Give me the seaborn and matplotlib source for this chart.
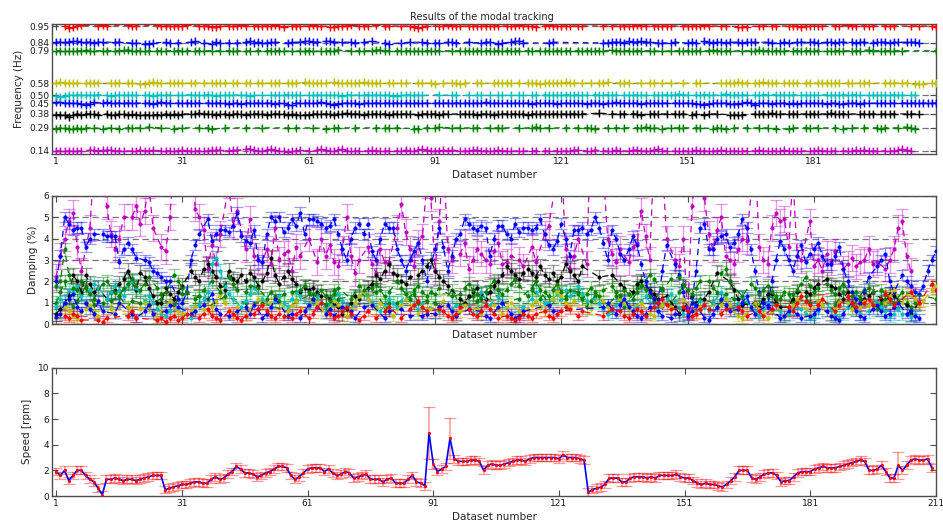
import numpy as np
import pandas as pd
import matplotlib
matplotlib.use("Agg")
import matplotlib.pyplot as plt
import seaborn as sns

na = float("nan")
datasets = list(range(1, 211))

# ---------------- frequency of each tracked mode (Hz), NaN = not identified ----------------
freq_095 = [
    na,na,.95,.94,.945,.95,.955,na,na,na,.95,.955,.95,na,na,na,na,.955,.95,.95,na,na,na,na,.955,.95,.95,.95,.95,.95,
    .95,.955,na,na,.95,.95,.95,.945,.945,.95,na,.95,.95,.95,.955,.95,na,.95,.95,.95,.95,.95,.955,.95,.945,na,.95,.95,.95,na,
    .95,.955,.95,.95,na,.945,.945,.95,.95,.95,.955,na,.95,.95,.95,na,.955,na,.95,.95,na,na,.95,na,.95,.945,.94,.945,.95,na,
    na,.95,.95,.955,.95,.95,.95,na,.95,.95,.95,.95,.95,.95,.95,.95,na,.95,.95,.95,.955,.95,.95,.95,.945,na,.95,.955,.95,.95,
    .95,.95,.95,na,.95,.95,na,na,na,na,.95,na,.95,na,.95,.95,.95,.95,.955,.95,.95,na,.95,.95,.95,.95,.95,na,na,.95,
    .95,.95,.95,.95,.955,.95,na,na,.95,.95,na,na,.945,.945,.945,na,na,.95,.95,na,.95,.95,na,na,.95,.95,.95,.945,.95,.95,
    na,.95,.95,na,na,.95,.95,na,.955,.95,.95,na,.95,.95,.95,na,na,.95,.95,.95,na,na,na,.95,na,.95,na,na,.95,.945]
freq_084 = [
    .845,.845,.845,.845,.85,.85,.845,.845,.845,.84,.845,.845,na,na,.845,.845,na,na,.84,.84,na,.835,.835,.84,na,na,.845,.84,na,.84,
    na,na,.845,.85,na,.84,na,.835,.845,.84,na,.84,na,.84,na,.845,.85,.84,.845,.84,.84,.845,.845,na,na,.84,.845,na,.845,.85,
    .85,.845,.845,na,.85,.85,.845,na,.845,na,.845,.84,na,.845,na,.85,na,na,.84,.835,na,na,.84,na,.845,na,na,.845,.84,na,
    .84,.84,na,.845,.845,.84,na,na,.845,na,na,.84,.845,.845,na,.835,.84,na,.845,.85,.85,.84,na,na,na,na,na,.84,.845,na,
    na,na,na,na,na,na,na,na,na,na,.84,.84,.845,.845,.845,.84,.85,.845,.845,.85,.845,.845,na,.84,.84,na,.84,.845,na,na,
    .84,.845,.84,na,.85,.845,.84,.845,.845,.84,.845,na,.845,.84,.845,.845,.845,na,na,.845,.84,na,.84,.845,.84,na,.845,.845,na,.845,
    .845,.84,na,.845,.845,.84,.845,.845,na,.845,.84,.845,.845,na,.84,.845,.845,.845,.84,.845,.845,na,.845,.845,.845,.84,na,na,na,na]
freq_079 = [
    .79,.79,.785,.785,.785,.79,.79,.795,.79,.79,na,.79,.79,na,.79,.79,.795,.795,.79,.79,.79,.785,.79,na,.79,.79,.79,na,.79,.79,
    .79,.79,na,.79,.79,.79,na,.79,na,.79,na,.79,.79,.79,na,.785,.79,na,.79,na,.79,.79,.79,.79,.79,na,.785,na,.79,.79,
    .79,.79,na,.785,.79,.79,.79,.795,na,na,.79,na,.79,.79,na,.79,.795,.795,.79,.79,na,.79,.79,.79,.79,.79,.785,.79,.79,.79,
    .79,.79,na,na,.79,na,.79,.79,.79,.785,.79,.79,.79,.79,.79,.79,.785,.79,.79,.79,.79,na,.79,.79,na,.79,.79,.79,.79,.79,
    .79,.79,.79,na,.79,.79,.79,.79,.79,.79,.79,na,.795,.79,.79,.79,.79,.79,.79,.79,na,.79,.79,na,.785,na,.79,na,.79,.79,
    .79,.79,.79,.79,na,.79,.795,.79,.79,.79,.79,na,na,.79,na,.79,.79,.795,.79,.79,.79,.79,.79,.79,na,.79,.79,.79,.79,.79,
    .79,.79,na,.785,.79,.79,.79,.79,na,.79,.79,.79,na,.795,.79,na,.79,.79,.79,.79,na,.79,na,na,na,na,na,na,na,.79]
freq_058 = [
    .58,.585,.58,.58,.58,.58,na,.58,.58,.58,.58,na,na,.58,.58,.58,na,.58,.58,na,.575,.575,.58,.585,.58,.58,na,.58,.58,.58,
    .58,na,.58,.58,na,.58,na,.58,.58,.58,.58,na,.58,.58,na,.58,.58,na,.58,.58,na,.58,.58,.58,na,.58,.58,.58,na,.585,
    .58,.58,.58,.58,.58,na,.585,.58,.58,.58,.58,.58,.58,.585,.58,.58,.58,.58,na,.58,.58,na,.58,.58,na,na,.58,.58,na,.58,
    .575,na,.58,na,.58,.58,.575,.58,na,na,.58,.58,na,na,.58,.58,.58,.58,.58,na,.58,na,.58,.58,.58,.575,.58,.58,.58,.58,
    .58,.585,.58,.58,na,.58,na,.58,na,.58,.58,.585,na,na,.58,.58,.58,na,na,.58,na,.58,.58,na,.58,na,.58,na,na,.58,
    na,na,.58,.58,na,na,na,na,.58,.58,.58,.58,.585,.58,.58,na,.58,.58,.585,.58,.58,.58,na,.58,.58,.58,.58,na,.58,.58,
    na,.58,.58,.58,.58,.58,.58,na,.58,.58,na,.58,.58,.58,na,na,na,.58,.58,.58,na,.58,.58,na,.575,.575,.575,na,.58,.58]
freq_050 = [
    .495,.49,.495,.5,.5,.505,.5,.5,.5,.5,.505,na,.5,.495,.5,.5,.505,.5,.5,.5,na,.5,.5,.495,.5,.505,.505,.5,na,.5,
    .5,na,.505,.5,.5,.5,.505,.5,.495,.5,.5,.5,.505,na,.5,.5,.495,.5,na,.5,na,.5,.5,.5,.505,.505,.5,.5,.5,na,
    .5,.5,.5,.505,.5,.5,.5,.5,.495,.5,.505,na,.5,.5,.505,.505,.5,.5,.5,.5,.495,.495,.5,.5,.505,.5,.5,.5,na,na,
    na,.505,na,na,.5,.5,na,na,.5,na,.5,.5,na,.5,na,.5,.5,na,.5,na,.5,.5,na,.5,.5,na,.505,.5,.5,.5,
    .5,.505,.505,.5,.505,.5,.5,na,.505,.5,.5,.505,.5,.5,na,.5,.5,.505,.5,.5,.5,na,.5,.5,.5,.505,.5,.505,.51,.505,
    .5,na,.5,.505,.505,.505,.5,na,.505,.51,.5,.5,.505,.505,.5,na,.5,.5,.505,.505,na,.505,.505,.5,.5,.505,na,.5,.5,.5,
    .5,.5,na,.505,.5,.5,.5,.505,.5,.505,.505,.5,na,.5,.5,.5,.5,.5,.5,.505,.5,.5,na,.5,.5,na,na,na,na,na]
freq_045 = [
    .455,.455,.45,.45,.45,.45,.445,.44,.445,.455,na,.45,.455,.45,.45,.45,.45,.45,.45,.45,na,.45,.45,.445,.45,.455,.45,.45,na,.45,
    .45,.45,.45,.45,.45,na,.45,.45,.45,.45,.45,.445,.45,.45,.445,.45,.45,.45,.45,.45,.45,.45,.445,.45,.45,.44,.44,.45,.45,.45,
    .45,.45,.45,.455,.45,.445,.44,.445,.45,.45,.45,.45,.445,.45,.45,.45,.45,.45,.45,.45,.45,.45,.45,.45,.45,.45,.45,.45,.45,na,
    .45,.45,.45,.45,.45,.45,.45,.45,.45,.45,.45,.45,.455,.45,.45,.45,.45,.45,.45,.45,.45,.45,.45,.445,.45,.45,.45,.45,.45,.445,
    .45,.45,.45,.45,.45,.45,.445,.45,.45,.45,.445,.45,.45,.455,.45,.45,.45,.45,.45,.445,.45,.45,.45,.45,.45,.45,na,.45,.45,.45,
    .45,.45,.445,.445,.44,.445,.45,.45,.45,.45,.445,.445,.445,.45,.455,.45,.44,.45,.45,.45,.445,.45,.45,.45,.445,.45,.445,.45,.45,.45,
    .45,.45,.45,.445,.45,.45,.445,.445,.45,.45,.45,.445,.45,.45,na,.45,.45,.45,.45,.45,na,.45,.45,.45,.45,.45,.45,.45,.45,.45]
freq_038 = [
    .375,.375,.37,.36,.375,.38,.375,.38,.38,.38,.375,na,.38,.37,.375,.38,.38,.375,.38,.375,.37,.37,.375,.375,.375,.375,.38,.375,.38,.375,
    .38,na,.38,.38,.385,.38,.38,.38,.375,.38,.38,.375,.38,.38,.38,.375,.38,.38,.38,.38,.375,.38,.38,.38,.38,.375,.38,.375,.375,.37,
    .375,.38,.38,.38,.38,.38,.375,.38,.38,.385,.38,.38,.38,.375,.38,.38,.38,.38,.38,.375,.38,.38,.38,.38,.38,na,.375,.38,.38,.38,
    .38,.375,.38,.38,na,na,.38,.38,.38,.38,.375,.38,.38,.38,.375,.38,.38,.38,.38,.38,.38,.38,.37,.38,.38,.38,.38,.38,.38,.38,
    .38,.38,.38,.38,.38,.38,na,na,na,.385,na,na,.38,na,.38,.38,na,.38,.38,.375,na,.38,.38,.38,na,.38,na,.38,.38,.38,
    na,.375,.38,na,.375,.38,na,.38,na,na,.375,.37,.375,.375,na,na,.38,.38,.38,.38,.385,.38,.38,na,.38,.38,.38,na,.38,.38,
    .38,.38,na,.38,.385,.38,.38,.38,.38,na,na,.38,.38,.38,.38,na,.38,.38,.38,.38,na,na,.38,.38,na,.38,na,na,na,na]
freq_029 = [
    .285,.29,.29,.285,.28,.29,.28,.29,na,.29,na,.285,na,.29,na,.285,na,.29,.29,na,.29,na,.295,na,na,.29,na,na,.285,na,
    .29,na,na,na,.29,na,.29,.28,na,na,.29,na,na,na,na,.29,na,na,na,.29,na,na,na,na,na,.29,na,.29,na,na,
    na,.29,na,na,.285,na,.29,.29,na,na,na,.29,na,na,na,na,.29,na,.29,.29,na,.29,na,na,na,.285,.285,na,.29,na,
    .29,.295,na,na,.29,na,.29,na,na,.29,.29,na,na,.29,na,.29,.29,na,na,na,.29,na,na,.29,.295,.29,na,.29,na,na,
    na,.29,na,na,.29,na,.29,.29,.285,na,na,.29,na,.29,na,.29,na,na,.29,.29,.295,.29,.29,na,.285,na,.29,na,.29,.29,
    na,na,.29,.29,na,na,.285,.29,.29,.28,na,.29,na,na,.29,na,na,.29,na,.29,na,.285,na,na,.28,.29,na,na,.29,.29,
    na,.29,na,na,na,.29,na,.285,na,.29,na,na,.29,na,na,.29,.285,.29,na,na,.29,na,.295,.29,.285,na,na,na,na,na]
freq_014 = [
    .14,.14,.14,.14,.14,.14,.14,na,.145,.145,.14,.145,.145,.145,.14,.14,.14,na,.14,.14,.145,.14,.14,.145,na,.14,.14,.14,.14,.14,
    .145,.14,.14,.14,.14,.14,.14,.145,.145,.145,na,.14,.145,.145,na,.15,.155,.145,.14,.14,.145,.15,.145,.14,.14,.135,.14,.14,.145,na,
    .14,na,.145,.15,.145,.14,.14,.145,.15,.14,.14,.14,.14,na,.14,.145,.14,.14,.14,.14,na,.14,.14,.145,.14,.14,.145,.15,.145,.14,
    .14,.14,.145,.14,.145,na,.14,.14,.14,.145,.145,.14,.14,.14,.14,.145,.14,.14,.14,na,.14,.14,na,.14,.14,na,.14,.14,na,.14,
    .14,.14,.14,.145,.145,na,.14,.14,.145,na,.14,.14,.14,.145,.14,na,.14,.145,.145,.14,.14,.14,.145,.15,.14,.14,na,.14,.14,.14,
    .14,.14,.145,.14,.14,.14,.14,.14,.145,.14,.14,.14,.14,.14,.14,na,.14,.145,.14,.14,.14,.14,.14,.145,.14,.14,.14,.14,na,.14,
    .14,.145,.14,.14,.14,.14,na,.14,.14,.14,.145,.14,.145,.14,.14,.14,na,.14,.14,.14,.145,.15,.145,.14,na,na,na,na,na,na]

# ---------------- damping of each mode (%), same datasets ----------------
damp_095 = [
    .2,.3,.4,.3,.5,.4,.2,.3,.5,.6,.2,.1,.3,.4,.5,.3,.2,.4,.6,.3,.2,.3,.5,.4,.2,.3,.1,.3,.4,.2,
    .3,.5,.4,.2,.3,.5,.7,.4,.3,.2,.4,.6,.5,.3,.2,.4,.3,.5,.7,.9,.6,.4,.3,.5,.4,.2,.3,.5,.6,.4,
    .3,.5,.8,1.0,.7,.5,.3,.4,.6,.8,.5,.3,.2,.4,.6,.5,.3,.4,.6,.8,.6,.4,.3,.5,.7,.9,1.1,.8,.6,.4,
    .5,.7,.6,.4,.3,.5,.8,1.0,.7,.5,.4,.6,.9,.7,.5,.3,.2,.4,.3,.2,.3,.5,.4,.3,.5,.7,.6,.4,.3,.5,
    .6,.8,.7,.5,.4,.6,.9,1.1,.8,.6,.4,.5,.7,.9,.6,.4,.3,.5,.7,.6,.4,.6,.8,1.0,1.2,.9,.7,.5,.6,.8,
    .6,.4,.5,.7,.9,.7,.5,.3,.5,.7,.9,1.1,.8,.6,.4,.6,.8,.6,.4,.5,.7,.9,1.2,1.0,.8,.6,1.0,1.3,1.1,.9,
    .7,.9,1.2,1.0,.8,.6,.9,1.1,1.3,1.0,.8,.6,1.0,1.2,.9,.7,1.1,1.4,1.2,.9,.7,1.0,1.3,1.5,1.2,1.0,1.4,1.7,1.9,1.6]
damp_084 = [
    .35,.5,1.0,1.2,1.4,.8,.6,1.0,.7,.5,1.1,.6,.4,.3,.5,1.0,1.3,.8,.5,.3,.4,.6,.9,.5,.3,.4,.6,.9,1.2,.8,
    .4,.3,.5,.6,.4,.9,1.1,1.4,.7,.5,.3,.4,.2,.6,1.0,.8,.5,.9,.7,.3,.5,.8,1.2,.9,.6,.4,.5,.8,.3,.6,
    .9,1.2,.8,.6,.5,.7,.4,.5,.8,.9,.6,.3,.5,.8,1.1,.9,.6,.4,.3,.6,.9,.5,.7,1.0,.4,.8,.6,.4,.5,.3,
    .5,.8,1.2,.9,.6,.4,.3,.5,.7,.9,1.1,.6,.4,.3,.5,.8,1.0,.7,.5,.3,.4,.6,.9,.6,.4,.5,.7,.9,.6,.4,
    .5,.3,.5,.6,.4,.7,.5,.3,.4,.5,.8,1.0,.7,.5,.9,1.2,.8,.6,.4,.3,.5,.8,1.1,.6,.4,.2,.3,.5,.4,.3,
    .4,.6,.9,.5,.3,.2,.5,.8,1.2,.9,.6,.4,.7,1.0,1.3,.8,.5,.4,.6,.9,.7,.5,.3,.4,.6,.8,.5,.3,.2,.4,
    .5,.7,.9,.6,.4,.3,.2,.5,.8,1.0,.6,.4,.3,.5,.7,.9,.6,.4,.5,.8,1.0,.7,.5,.6,.4,.3,.5,.5,.5,.5]
damp_079 = [
    1.8,2.0,3.5,2.3,1.7,1.6,2.0,1.7,1.4,1.2,1.6,1.9,2.0,1.8,1.5,1.3,1.7,1.9,2.1,1.8,1.6,1.9,2.2,2.0,1.7,1.4,1.5,1.8,2.3,2.0,
    1.7,1.5,1.4,1.2,1.3,1.6,1.8,2.0,1.7,1.5,2.0,2.2,1.9,1.6,1.4,1.5,1.8,2.1,1.7,1.4,1.2,1.5,1.3,1.1,1.4,1.7,1.5,1.3,1.6,1.8,
    1.5,1.2,1.4,1.6,1.3,1.1,1.4,1.7,1.5,1.3,1.2,1.5,1.8,1.6,1.4,1.7,1.9,1.6,1.3,1.5,1.8,2.0,1.7,1.4,1.2,1.6,1.8,1.5,1.3,1.5,
    1.4,1.7,1.9,1.6,1.3,1.2,1.4,1.7,1.9,1.6,1.4,1.2,1.5,1.8,2.0,1.6,1.4,1.6,1.9,2.1,1.8,1.5,1.3,1.6,1.4,1.2,1.5,1.3,1.6,1.9,
    1.5,1.3,1.6,1.8,1.5,1.2,1.4,1.7,1.5,1.3,1.6,2.0,1.8,1.5,1.3,1.6,1.4,1.2,1.5,1.8,2.0,2.3,2.1,1.8,1.6,1.9,2.1,2.5,2.2,1.9,
    1.6,1.4,1.7,2.0,2.3,2.0,1.7,1.5,2.4,2.6,2.0,1.8,1.5,1.3,1.6,1.9,1.7,1.4,1.6,1.8,1.5,1.3,1.2,1.5,1.7,1.4,1.6,1.9,2.2,1.8,
    1.5,1.7,2.2,1.9,1.6,1.4,1.7,1.9,1.6,1.3,1.5,1.2,1.4,1.7,1.5,1.3,1.6,1.4,1.2,1.0,1.3,1.5,1.7,1.4,1.2,1.3,1.5,1.2,1.0,1.2]
damp_058 = [
    .3,.5,.8,.6,.4,.3,.5,.7,.9,.6,.4,.8,1.0,.7,.5,.9,1.2,.8,.6,.4,.7,1.0,.8,.5,.3,.6,.9,1.1,.8,.6,
    .5,.3,.6,.8,1.0,.7,.5,.8,1.1,1.4,1.0,.7,.5,.8,.6,.4,.7,.9,1.2,.9,.7,1.0,1.3,1.0,.8,.6,.9,1.1,.8,.6,
    .9,1.2,1.0,.7,.5,.8,1.1,.9,.6,.4,.7,1.0,1.3,1.5,1.2,.9,.7,1.0,.8,.6,.4,.7,.9,1.2,1.0,.7,.5,.8,1.0,.7,
    .5,.8,1.1,.9,.6,.4,.6,.9,1.2,1.0,.7,.5,.4,.6,.9,.7,.5,.8,1.0,.8,.6,.4,.7,.9,1.1,.8,.6,.9,1.2,1.5,
    1.3,1.0,.8,1.1,1.4,1.2,.9,.7,1.0,1.3,1.1,.8,.6,.9,1.2,1.0,.7,.5,.8,1.0,.7,.5,.4,.6,.9,1.1,.8,.6,.9,1.2,
    1.0,.7,.5,.8,1.0,.7,.4,.6,.9,1.2,.9,.6,.4,.3,.5,.8,1.0,.7,.5,.3,.6,.9,.7,.4,.6,.9,1.2,1.0,.7,.5,
    .8,1.1,.9,.6,.4,.7,1.0,1.3,1.0,.7,.5,.8,1.1,.9,.6,.4,.7,1.0,1.3,1.6,1.3,1.0,1.4,1.6,1.2,.9,1.1,1.4,1.6,1.8]
damp_050 = [
    .8,1.2,1.0,1.6,1.5,1.8,1.3,1.0,1.6,1.9,1.7,1.4,1.2,1.5,1.8,1.6,1.3,1.9,2.0,1.7,1.4,1.1,1.3,1.0,.7,.5,.4,.6,.9,.7,
    .5,.4,.3,.6,.9,1.2,1.5,2.8,3.1,2.5,1.8,1.4,1.2,1.0,.8,1.1,1.4,1.7,1.5,1.2,1.0,.8,1.1,1.3,1.0,.8,1.2,1.5,1.3,1.0,
    .8,1.1,1.3,1.0,.7,.9,1.2,1.4,1.1,.9,.7,1.0,1.3,1.5,1.2,1.0,.8,.6,.9,1.2,1.0,.8,1.1,1.4,1.2,.9,.7,1.0,1.2,1.0,
    .8,.6,.4,.5,.7,.9,1.2,1.0,.8,.6,.5,1.5,2.8,.9,1.1,1.3,1.0,.7,.5,.4,.6,.8,1.0,1.2,1.5,1.3,1.0,1.0,1.2,1.4,
    1.2,1.6,1.3,1.5,1.8,1.4,1.1,.9,1.2,1.0,.7,.5,.6,.9,1.2,1.0,.8,.6,.9,1.1,1.3,1.0,.8,.6,.9,1.2,1.4,1.1,.8,.5,
    .4,.6,.9,1.1,.8,.6,1.0,1.3,1.5,1.2,.9,.7,1.0,1.3,1.1,.8,.6,.4,.7,1.0,1.2,.9,.6,.4,.5,.8,1.0,.7,.5,.3,
    .4,.6,.8,1.0,.7,.5,.3,.5,.8,1.0,.7,.5,.4,.6,.9,1.1,.8,.6,.4,.5,.7,.5,.3,.4,.5,.5,.5,.5,.5,.5]
damp_045 = [
    2.0,3.2,5.0,4.7,4.4,4.5,4.5,3.6,4.0,4.2,4.2,4.2,4.1,4.1,4.1,2.9,3.5,3.8,3.5,3.1,3.2,3.0,2.9,2.5,2.4,2.2,2.0,2.0,1.5,1.2,
    1.0,1.5,3.0,3.7,4.2,4.5,4.9,3.9,4.2,4.4,4.4,4.3,4.6,5.2,4.1,3.9,3.8,4.4,3.0,2.9,4.2,5.0,4.8,5.0,4.3,4.5,4.9,4.6,5.2,4.2,
    4.9,4.9,4.8,4.7,4.5,4.6,4.9,4.2,3.5,3.0,4.0,4.5,4.7,4.2,4.7,3.4,3.0,4.0,4.7,4.5,4.5,3.5,3.0,2.5,3.0,3.4,3.8,3.0,2.0,2.6,
    3.5,4.5,3.6,2.5,3.2,4.0,4.2,4.9,4.7,4.5,4.4,4.6,4.5,3.2,4.0,4.6,4.6,4.2,4.0,4.7,4.3,4.5,4.5,4.4,4.5,4.9,4.2,3.7,3.5,3.9,
    4.7,4.0,3.2,4.4,4.4,4.5,4.2,4.4,5.0,4.5,3.8,3.0,4.4,4.0,3.3,3.0,3.5,4.1,3.7,2.8,2.0,1.5,1.2,1.0,2.5,3.7,3.5,2.8,2.3,1.5,
    .5,1.0,2.5,4.5,4.7,3.5,3.5,4.0,4.1,4.2,3.6,3.8,4.2,4.9,4.5,3.5,2.5,1.5,1.0,.8,2.0,3.0,3.9,3.5,3.0,2.5,3.2,3.7,2.9,3.3,
    3.5,3.8,3.2,2.8,2.8,3.2,3.6,2.6,2.0,1.5,1.2,1.0,1.5,2.2,2.7,2.7,3.0,3.3,2.0,1.5,1.2,2.3,2.0,1.8,1.5,1.4,1.8,2.5,3.0,3.4]
damp_038 = [
    .5,.7,1.0,1.3,2.3,2.0,1.5,2.3,1.9,1.5,1.7,1.4,1.2,1.5,1.6,1.9,2.1,2.5,2.0,1.6,2.4,2.2,1.7,1.3,1.0,1.0,1.7,1.4,1.2,1.5,
    1.8,2.1,2.5,2.2,2.0,2.6,2.8,2.5,2.2,1.8,1.6,2.5,2.1,2.0,2.3,2.0,2.4,2.2,1.8,2.0,2.4,3.1,2.3,1.9,2.2,2.5,2.1,1.9,1.5,1.7,
    1.6,1.7,1.5,1.3,1.3,1.2,1.0,.8,.5,.7,1.0,1.3,1.2,1.5,1.7,1.9,2.3,2.1,2.5,2.8,2.4,2.3,2.0,1.9,2.2,2.0,2.3,2.5,2.7,3.0,
    2.5,2.2,2.0,1.8,1.5,1.3,1.2,1.0,1.3,1.5,1.7,1.4,1.2,1.5,1.8,2.0,2.3,2.7,2.5,2.3,2.1,2.4,2.6,2.4,2.2,2.7,2.3,2.1,2.4,2.0,
    2.2,2.8,2.5,2.3,2.0,2.7,2.5,2.4,2.6,2.2,2.3,2.0,2.3,2.1,1.9,1.7,1.6,1.5,1.9,2.0,1.8,1.6,1.4,1.2,1.1,1.3,1.0,.8,.5,.7,
    1.1,1.3,1.0,.8,1.2,1.5,2.7,2.4,3.0,2.5,2.0,1.6,1.2,.9,1.1,1.3,1.0,.8,1.2,1.4,1.4,1.0,.8,.6,.8,1.2,1.5,1.7,1.5,1.4,
    1.7,1.9,2.1,2.1,1.8,1.7,1.4,1.2,1.5,1.3,1.1,1.0,1.2,1.3,1.5,1.4,1.2,1.0,1.4,1.3,1.6,1.2,.9,.5,.7,1.0,1.2,1.4,1.4,1.4]
damp_029 = [
    1.0,1.5,2.0,1.2,.8,1.1,1.4,1.8,1.3,.9,1.2,1.0,.7,1.1,1.5,1.3,.9,.8,1.1,1.4,1.0,.7,.9,1.3,1.6,1.2,.8,.6,.9,1.1,
    1.4,1.1,.8,1.0,1.3,1.6,1.2,.9,.7,1.0,1.3,1.1,.8,1.2,1.5,1.0,.7,.9,1.3,1.0,.8,1.1,1.4,1.2,.9,.6,.8,1.1,1.0,.8,
    1.1,1.4,1.0,.7,.9,1.3,1.6,1.2,.9,.8,1.1,1.3,.9,.7,1.0,1.2,1.5,1.1,.8,1.0,1.3,1.0,.7,.9,1.2,1.4,1.0,.8,1.1,1.3,
    1.0,.8,1.1,1.4,1.6,1.2,.9,.7,1.0,1.3,1.1,.8,1.2,1.5,1.8,1.3,1.0,.8,1.1,1.4,1.2,1.0,1.3,1.7,2.0,1.6,1.2,.9,1.1,1.3,
    1.5,1.2,.9,1.1,1.4,1.0,.8,1.1,1.3,1.6,1.2,.9,1.0,1.3,1.1,.8,1.0,1.4,1.7,2.0,1.6,1.3,1.1,1.4,1.7,1.3,1.0,1.2,1.5,1.8,
    1.4,1.1,.9,1.2,1.5,1.3,1.0,.8,1.1,1.4,1.6,1.2,.9,.7,1.0,1.3,1.1,.8,1.0,1.3,1.5,1.2,.9,1.1,1.4,1.0,.8,1.1,1.3,1.0,
    .8,1.1,1.4,1.0,.7,.9,1.2,1.5,1.1,.8,1.0,1.3,1.6,1.2,.9,.7,1.0,1.2,.9,.8,1.1,1.3,1.0,.8,1.0,1.0,1.0,1.0,1.0,1.0]
damp_014 = [
    2.2,3.2,4.0,4.8,5.2,3.6,2.5,4.0,4.5,7.5,9.0,8.0,5.5,4.2,3.5,4.0,5.0,7.0,5.0,5.5,4.7,5.3,6.5,4.5,5.8,3.6,3.4,5.0,8.0,9.0,
    8.0,7.0,9.0,5.4,5.0,4.4,2.6,3.7,2.8,4.2,5.3,6.5,4.6,5.3,4.0,3.5,4.9,3.2,3.0,2.9,3.5,2.8,4.5,3.0,3.3,3.4,2.5,3.6,3.2,4.5,
    4.0,3.8,2.9,4.0,3.2,3.7,2.9,2.7,3.5,5.0,3.2,2.4,3.0,3.4,3.6,2.8,2.4,3.5,2.9,2.9,3.8,4.5,5.6,4.3,3.5,2.7,3.8,4.1,6.5,5.9,
    2.5,4.8,8.0,3.5,3.0,2.9,3.3,3.8,2.6,3.0,3.5,3.3,3.0,2.8,3.4,3.8,2.8,2.9,3.2,4.5,3.0,2.7,3.4,3.6,2.9,3.8,4.2,4.6,5.0,7.0,
    8.0,3.5,2.6,3.2,4.0,3.0,2.8,9.0,8.0,5.8,7.0,4.0,3.3,2.9,3.5,4.0,2.9,3.6,3.8,5.3,4.1,3.0,8.0,9.0,7.5,4.0,3.5,3.0,2.7,4.0,
    .3,5.5,7.0,9.0,5.9,4.2,3.5,4.4,5.0,3.2,3.0,2.8,3.5,4.0,3.9,5.0,8.0,3.6,3.0,2.8,4.5,5.2,4.8,4.9,3.6,7.0,3.2,3.0,4.0,4.8,
    2.7,3.0,2.5,3.3,2.9,3.4,3.0,2.6,2.8,3.1,2.7,2.9,3.0,3.5,2.8,2.9,3.3,2.6,3.0,3.5,4.5,4.8,3.2,2.5,3.0,3.0,3.0,3.0,3.0,3.0]

# ---------------- rotor speed (rpm) ----------------
speed_rpm = [
    1.9,1.6,2.0,1.2,1.6,2.0,2.0,1.6,1.3,1.1,0.6,0.1,1.3,1.3,1.4,1.3,1.2,1.3,1.3,1.2,1.3,1.4,1.5,1.6,1.6,1.6,0.5,0.6,0.7,0.8,
    0.9,0.9,1.0,1.1,1.1,1.0,1.0,1.3,1.5,1.3,1.4,1.7,1.9,2.3,2.1,1.8,1.8,1.7,1.5,1.6,1.8,1.9,2.1,2.3,2.3,2.2,1.6,1.3,1.5,1.8,
    2.1,2.2,2.2,2.2,1.9,2.1,1.8,1.6,1.7,1.9,1.8,1.4,1.5,1.6,1.7,1.3,1.3,1.3,1.1,1.3,1.4,1.0,1.0,1.0,1.3,1.6,1.1,1.0,0.8,4.9,
    2.5,1.9,2.1,2.3,4.5,2.9,2.7,2.7,2.7,2.8,2.8,2.7,2.0,2.4,2.5,2.4,2.4,2.5,2.6,2.7,2.8,2.8,2.7,2.9,3.0,3.0,3.0,3.0,3.0,3.0,
    2.9,3.2,3.0,3.0,3.0,2.9,2.8,0.3,0.5,0.6,0.7,0.9,1.4,1.4,1.4,1.1,1.1,1.4,1.5,1.5,1.5,1.4,1.5,1.4,1.6,1.6,1.6,1.6,1.7,1.5,
    1.4,1.4,1.2,1.0,0.9,1.0,0.9,0.9,0.8,0.7,0.9,1.2,1.5,2.0,2.0,2.0,1.4,1.3,1.5,1.7,1.8,1.8,1.6,1.1,1.2,1.2,1.5,1.8,1.9,1.9,
    1.9,2.1,2.2,2.3,2.2,2.2,2.2,2.3,2.4,2.5,2.6,2.7,2.8,2.7,2.0,2.0,2.1,2.4,1.9,1.4,1.4,2.4,2.0,2.4,2.8,2.9,2.8,2.8,2.9,2.2]
speed_err = [
    .3,.3,.3,.3,.3,.3,.3,.3,.3,.3,.3,.3,.3,.3,.3,.3,.3,.3,.3,.3,.3,.3,.3,.3,.3,.3,.3,.3,.3,.3,
    .3,.3,.3,.3,.3,.3,.3,.3,.3,.3,.3,.3,.3,.3,.3,.3,.3,.3,.3,.3,.3,.3,.3,.3,.3,.3,.3,.3,.3,.3,
    .3,.3,.3,.3,.3,.3,.3,.3,.3,.3,.3,.3,.3,.3,.3,.3,.3,.3,.3,.3,.3,.3,.3,.3,.3,.3,.3,.3,.3,2.0,
    .4,.3,.3,.3,1.6,.3,.3,.3,.3,.3,.3,.3,.3,.3,.3,.3,.3,.3,.3,.3,.3,.3,.3,.3,.3,.3,.3,.3,.3,.3,
    .3,.3,.3,.3,.3,.3,.3,.3,.3,.3,.3,.3,.3,.3,.3,.3,.3,.3,.3,.3,.3,.3,.3,.3,.3,.3,.3,.3,.3,.3,
    .3,.3,.3,.3,.3,.3,.3,.3,.3,.3,.3,.3,.3,.3,.3,.3,.3,.3,.3,.3,.3,.3,.3,.3,.3,.3,.3,.3,.3,.3,
    .3,.3,.3,.3,.3,.3,.3,.3,.3,.3,.3,.3,.3,.3,.3,.3,.3,.3,.3,.3,.3,1.05,.3,.3,.3,.3,.3,.3,.3,.3]

mode_means = [0.14, 0.29, 0.38, 0.45, 0.50, 0.58, 0.79, 0.84, 0.95]
freq_err = 0.02
# (frequency, damping, colour, damping error)
modes = [
    (freq_014, damp_014, (0.75, 0, 0.75), 0.6),
    (freq_029, damp_029, (0, 0.5, 0), 0.3),
    (freq_038, damp_038, (0, 0, 0), 0.35),
    (freq_045, damp_045, (0, 0, 1), 0.25),
    (freq_050, damp_050, (0, 0.75, 0.75), 0.3),
    (freq_058, damp_058, (0.75, 0.75, 0), 0.25),
    (freq_079, damp_079, (0, 0.5, 0), 0.3),
    (freq_084, damp_084, (0, 0, 1), 0.2),
    (freq_095, damp_095, (1, 0, 0), 0.2),
]

sns.set_style("ticks")
plt.rcParams["font.family"] = ["DejaVu Sans"]
plt.rcParams["axes.edgecolor"] = "0.3"
plt.rcParams["axes.linewidth"] = 1.0

W, H = 943, 526
fig = plt.figure(figsize=(W / 100, H / 100), dpi=100)
ax1 = fig.add_axes([52 / W, 1 - 154 / H, 884 / W, 130 / H])
ax2 = fig.add_axes([52 / W, 1 - 324.3 / H, 884 / W, 128.6 / H])
ax3 = fig.add_axes([52 / W, 1 - 496 / H, 884 / W, 128.3 / H])

TICK = 6.5
LAB = 7.5
dash = (0, (5, 4))

for f, d, c, derr in modes:
    df = pd.DataFrame({"ds": datasets, "f": f, "d": d}).dropna()
    ax1.vlines(df["ds"], df["f"] - freq_err, df["f"] + freq_err, color=c, alpha=0.28, lw=1.3, zorder=2)
    sns.lineplot(data=df, x="ds", y="f", ax=ax1, color=c, marker="+", markersize=5.5,
                 markeredgecolor=c, markeredgewidth=1.0, linestyle=dash, lw=0.8,
                 errorbar=None, sort=False, zorder=3)
    ax2.errorbar(df["ds"], df["d"], yerr=derr, fmt="none", ecolor=c, alpha=0.4,
                 capsize=4, elinewidth=1.0, capthick=0.9, zorder=2)
    sns.lineplot(data=df, x="ds", y="d", ax=ax2, color=c, marker="o", markersize=2.4,
                 markeredgecolor=c, markeredgewidth=0.5, linestyle=dash, lw=0.9,
                 errorbar=None, sort=False, zorder=3)

spd = pd.DataFrame({"ds": datasets, "v": speed_rpm, "e": speed_err})
ax3.errorbar(spd["ds"], spd["v"], yerr=spd["e"], fmt="none", ecolor=(1, 0, 0), alpha=0.4,
             capsize=4, elinewidth=1.1, capthick=0.9, zorder=2)
sns.lineplot(data=spd, x="ds", y="v", ax=ax3, color=(0, 0, 1), lw=1.2, errorbar=None, zorder=3)
sns.scatterplot(data=spd, x="ds", y="v", ax=ax3, color=(1, 0, 0), marker="o", s=5,
                linewidth=0, zorder=4)

# --- axes cosmetics ---
ax1.set_xlim(0, 210)
ax1.set_ylim(0.12, 0.963)
ax1.set_yticks(mode_means)
ax1.set_yticklabels([f"{v:.2f}" for v in mode_means])
ax1.set_xticks(list(range(1, 211, 30)))
ax1.set_xlabel("Dataset number", fontsize=LAB, labelpad=3)
ax1.set_ylabel("Frequency (Hz)", fontsize=LAB)
ax1.set_title("Results of the modal tracking", fontsize=7, pad=3, x=0.486)

ax2.set_xlim(0, 210)
ax2.set_ylim(0, 6)
ax2.set_xticks(list(range(1, 211, 30)))
ax2.set_xticklabels([])
ax2.set_yticks(range(0, 7))
ax2.set_xlabel("Dataset number", fontsize=LAB, labelpad=2)
ax2.set_ylabel("Damping (%)", fontsize=LAB)

ax3.set_xlim(0, 211)
ax3.set_ylim(0, 10)
ax3.set_xticks(list(range(1, 212, 30)))
ax3.set_yticks(range(0, 11, 2))
ax3.set_xlabel("Dataset number", fontsize=LAB, labelpad=3)
ax3.set_ylabel("Speed [rpm]", fontsize=LAB)

for ax in (ax1, ax2):
    ax.yaxis.grid(True, linestyle=(0, (5, 3)), color="0.45", lw=0.9)
    ax.set_axisbelow(True)
for ax in (ax1, ax2, ax3):
    ax.tick_params(direction="in", top=True, right=True, length=4, width=0.8,
                   labelsize=TICK, pad=2, colors="0.3", labelcolor="0.1")
    for s in ax.spines.values():
        s.set_visible(True)

fig.savefig("out.png", dpi=100)
